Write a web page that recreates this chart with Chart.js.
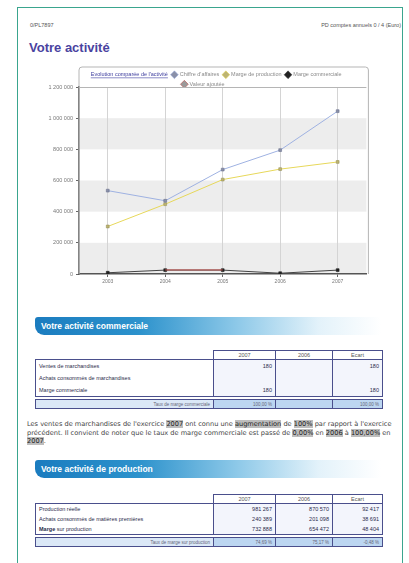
<!DOCTYPE html>
<html lang="fr">
<head>
<meta charset="utf-8">
<title>Votre activité</title>
<script src="https://cdn.jsdelivr.net/npm/chart.js@4.4.1/dist/chart.umd.min.js"></script>
<style>
  html, body { margin: 0; padding: 0; background: #fff; }
  body { width: 409px; height: 563px; overflow: hidden; position: relative;
         font-family: "Liberation Sans", Arial, sans-serif; color: #333; }
  .frame { position: absolute; left: 17px; top: 7px; width: 386px; height: 620px;
           border: 1.5px solid #3aa58e; box-sizing: border-box; }
  .code { position: absolute; left: 30px; top: 22px; font-size: 5.5px; color: #555; }
  .ref  { position: absolute; right: 8px; top: 22px; font-size: 5.5px; color: #555; }
  h1 { position: absolute; left: 29px; top: 40px; margin: 0; font-size: 13px;
       font-weight: bold; color: #4a43a0; }
  #chartBox { position: absolute; left: 39px; top: 66px; width: 332px; height: 223px; }
  .banner { position: absolute; left: 35px; width: 346px; height: 18px; color: #fff;
            font-weight: bold; font-size: 8.5px; line-height: 18px; padding-left: 6px;
            box-sizing: border-box; border-radius: 3px 0 0 9px;
            background: linear-gradient(to right, #1b7cbf 0%, #2c92cc 30%, #8cc8e8 58%, #e3f2fa 82%, #fff 100%); }
  table { position: absolute; left: 35px; width: 347px; border-collapse: collapse;
          font-size: 5.5px; color: #2b2b4b; table-layout: fixed; }
  td, th { padding: 0 3px; white-space: nowrap; overflow: hidden; }
  th { font-weight: normal; color: #555; height: 8px; border: 1px solid #4a4f8c; text-align: center; }
  th.blank { border: none; }
  tbody td { border-left: 1px solid #4a4f8c; border-right: 1px solid #4a4f8c; }
  tbody td.v { text-align: right; background: #f3f5fc; }
  tbody tr:first-child td { border-top: 1px solid #4a4f8c; }
  tbody tr:last-child td { border-bottom: 1px solid #4a4f8c; }
  tfoot td { border: 1px solid #4a4f8c; background: #dbe8f7; height: 8px;
             font-size: 4.5px; color: #667; text-align: right; }
  tfoot td.v { background: #bcd6f1; }
  tfoot tr.gap td { border: none; background: none; height: 2px; padding: 0; }
  .t1 tbody td { height: 12px; }
  .t2 tbody td { height: 10px; }
  p.txt { position: absolute; left: 27px; top: 420px; width: 376px; margin: 0;
          font-family: "DejaVu Sans", sans-serif; font-size: 6.6px; line-height: 8.5px; color: #444; }
  p.txt span { background: #bdbdbd; color: #222; }
</style>
</head>
<body>
<div class="frame"></div>
<div class="code">0/PL7897</div>
<div class="ref">PD comptes annuels 0 / 4 (Euro)</div>
<h1>Votre activité</h1>

<div id="chartBox"><canvas id="activityChart"></canvas></div>

<div class="banner" style="top:317px">Votre activité commerciale</div>
<table class="t1" style="top:350px">
  <colgroup><col style="width:178px"><col style="width:62px"><col style="width:57px"><col style="width:50px"></colgroup>
  <thead><tr><th class="blank"></th><th>2007</th><th>2006</th><th>Ecart</th></tr></thead>
  <tbody>
    <tr><td>Ventes de marchandises</td><td class="v">180</td><td class="v"></td><td class="v">180</td></tr>
    <tr><td>Achats consommés de marchandises</td><td class="v"></td><td class="v"></td><td class="v"></td></tr>
    <tr><td>Marge commerciale</td><td class="v">180</td><td class="v"></td><td class="v">180</td></tr>
  </tbody>
  <tfoot>
    <tr class="gap"><td colspan="4"></td></tr>
    <tr><td>Taux de marge commerciale</td><td class="v">100,00 %</td><td class="v"></td><td class="v">100,00 %</td></tr>
  </tfoot>
</table>

<p class="txt">Les ventes de marchandises de l'exercice <span>2007</span> ont connu une <span>augmentation</span> de <span>100%</span> par rapport à l'exercice précédent. Il convient de noter que le taux de marge commerciale est passé de <span>0,00%</span> en <span>2006</span> à <span>100,00%</span> en <span>2007</span>.</p>

<div class="banner" style="top:460px">Votre activité de production</div>
<table class="t2" style="top:494px">
  <colgroup><col style="width:178px"><col style="width:62px"><col style="width:57px"><col style="width:50px"></colgroup>
  <thead><tr><th class="blank"></th><th>2007</th><th>2006</th><th>Ecart</th></tr></thead>
  <tbody>
    <tr><td>Production réelle</td><td class="v">981 267</td><td class="v">870 570</td><td class="v">92 417</td></tr>
    <tr><td>Achats consommés de matières premières</td><td class="v">240 389</td><td class="v">201 098</td><td class="v">38 691</td></tr>
    <tr><td><b>Marge</b> sur production</td><td class="v">732 888</td><td class="v">654 472</td><td class="v">48 404</td></tr>
  </tbody>
  <tfoot>
    <tr class="gap"><td colspan="4"></td></tr>
    <tr><td>Taux de marge sur production</td><td class="v">74,69 %</td><td class="v">75,17 %</td><td class="v">-0,48 %</td></tr>
  </tfoot>
</table>

<script>
// values
const years = ["2003", "2004", "2005", "2006", "2007"];
const chiffreAffaires = [535000, 470000, 670000, 795000, 1045000];
const margeProduction = [305000, 448000, 606000, 673000, 719000];
const margeCommerciale = [8000, 25000, 25000, 5000, 25000];
const valeurAjoutee = [null, 26000, 26000, null, null];
const yTicks = [0, 200000, 400000, 600000, 800000, 1000000, 1200000];
const seriesNames = ["Chiffre d'affaires", "Marge de production", "Marge commerciale", "Valeur ajoutée"];
const linkText = "Evolution comparée de l'activité";

Chart.defaults.font.family = "Liberation Sans";

function formatNumber(v) {
  return String(v).replace(/\B(?=(\d{3})+(?!\d))/g, " ");
}

// grey bands 0-200k, 400-600k, 800k-1M
const bandsPlugin = {
  id: "bands",
  beforeDraw(chart) {
    const { ctx, chartArea: a, scales: { y } } = chart;
    ctx.save();
    ctx.fillStyle = "#ededed";
    for (let i = 0; i < yTicks.length - 1; i += 2) {
      const top = y.getPixelForValue(yTicks[i + 1]);
      const bottom = y.getPixelForValue(yTicks[i]);
      ctx.fillRect(a.left, top, a.right - a.left, bottom - top);
    }
    ctx.restore();
  }
};

// box around legend + plot, underline for the link
const framePlugin = {
  id: "frame",
  beforeLayout(chart) {
    const legend = chart.legend;
    if (legend && !legend._patched) {
      const fit = legend.fit;
      legend.fit = function () {
        fit.call(this);
        this.height = 19;
      };
      legend._patched = true;
    }
  },
  afterDraw(chart) {
    const { ctx, chartArea: a, legend } = chart;
    ctx.save();
    ctx.strokeStyle = "#b5b5b5";
    ctx.lineWidth = 1;
    const top = legend.top - 1;
    const r = 3;
    ctx.beginPath();
    ctx.moveTo(a.left, a.bottom);
    ctx.lineTo(a.left, top + r);
    ctx.arcTo(a.left, top, a.left + r, top, r);
    ctx.lineTo(a.right + 2 - r, top);
    ctx.arcTo(a.right + 2, top, a.right + 2, top + r, r);
    ctx.lineTo(a.right + 2, a.bottom);
    ctx.stroke();
    ctx.beginPath();
    ctx.moveTo(a.left, a.top + 0.5);
    ctx.lineTo(a.right, a.top + 0.5);
    ctx.stroke();

    const box = legend.legendHitBoxes[0];
    const fs = legend.options.labels.font.size;
    const bw = Math.min(legend.options.labels.boxWidth, fs);
    ctx.strokeStyle = "#3d3d9e";
    ctx.lineWidth = 0.6;
    ctx.beginPath();
    ctx.moveTo(box.left + bw + fs / 2, box.top + box.height + 0.3);
    ctx.lineTo(box.left + box.width, box.top + box.height + 0.3);
    ctx.stroke();
    ctx.restore();
  }
};

new Chart(document.getElementById("activityChart"), {
  type: "line",
  data: {
    labels: years,
    datasets: [
      { label: seriesNames[0], data: chiffreAffaires, borderColor: "#9fb2e2", backgroundColor: "#8a90a8",
        pointBackgroundColor: "#8a90a8", pointBorderColor: "#6d7390", pointStyle: "rect", pointRadius: 2 },
      { label: seriesNames[1], data: margeProduction, borderColor: "#e7d85a", backgroundColor: "#bdb472",
        pointBackgroundColor: "#bdb472", pointBorderColor: "#99925a", pointStyle: "rect", pointRadius: 2 },
      { label: seriesNames[3], data: valeurAjoutee, borderColor: "#c0504d", backgroundColor: "#9a9a9a",
        pointRadius: 0 },
      { label: seriesNames[2], data: margeCommerciale, borderColor: "#444", backgroundColor: "#222",
        pointBackgroundColor: "#222", pointBorderColor: "#222", pointStyle: "rect", pointRadius: 2 }
    ]
  },
  options: {
    responsive: true,
    maintainAspectRatio: false,
    animation: false,
    events: [],
    layout: { padding: { top: 2, right: 3, bottom: 2, left: 0 } },
    elements: { line: { borderWidth: 1, tension: 0 }, point: { borderWidth: 0.6 } },
    plugins: {
      tooltip: { enabled: false },
      legend: {
        position: "top",
        align: "start",
        fullSize: false,
        labels: {
          font: { size: 5.5, lineHeight: 1 },
          color: "#8a8a8a",
          boxWidth: 5,
          padding: 4,
          usePointStyle: true,
          generateLabels(chart) {
            const ds = chart.data.datasets;
            const item = (d) => ({
              text: d.label, fillStyle: d.backgroundColor, strokeStyle: d.borderColor,
              lineWidth: 0.6, pointStyle: "rectRot", fontColor: "#8a8a8a", hidden: false
            });
            const blank = (text, color) => ({
              text: text, fillStyle: "rgba(0,0,0,0)", strokeStyle: "rgba(0,0,0,0)",
              lineWidth: 0, pointStyle: "circle", fontColor: color, hidden: false
            });
            return [
              blank(linkText, "#3d3d9e"),
              item(ds[0]), item(ds[1]), item(ds[3]),
              blank("\u00A0".repeat(57), "rgba(0,0,0,0)"),
              item(ds[2])
            ];
          }
        }
      }
    },
    scales: {
      x: {
        offset: true,
        grid: { offset: false, color: "#d4d4d4", tickLength: 3, tickColor: "#666" },
        border: { color: "#555", width: 1.5 },
        ticks: { font: { size: 5 }, color: "#777", padding: 2 }
      },
      y: {
        min: 0,
        max: 1200000,
        afterFit(scale) { scale.width = 40; },
        afterBuildTicks(scale) { scale.ticks = yTicks.map(v => ({ value: v })); },
        grid: { drawOnChartArea: false, tickLength: 3, color: "#666" },
        border: { color: "#555", width: 1.5 },
        ticks: { font: { size: 5.5 }, color: "#777", padding: 3, callback: v => formatNumber(v) }
      }
    }
  },
  plugins: [bandsPlugin, framePlugin]
});
</script>
</body>
</html>
